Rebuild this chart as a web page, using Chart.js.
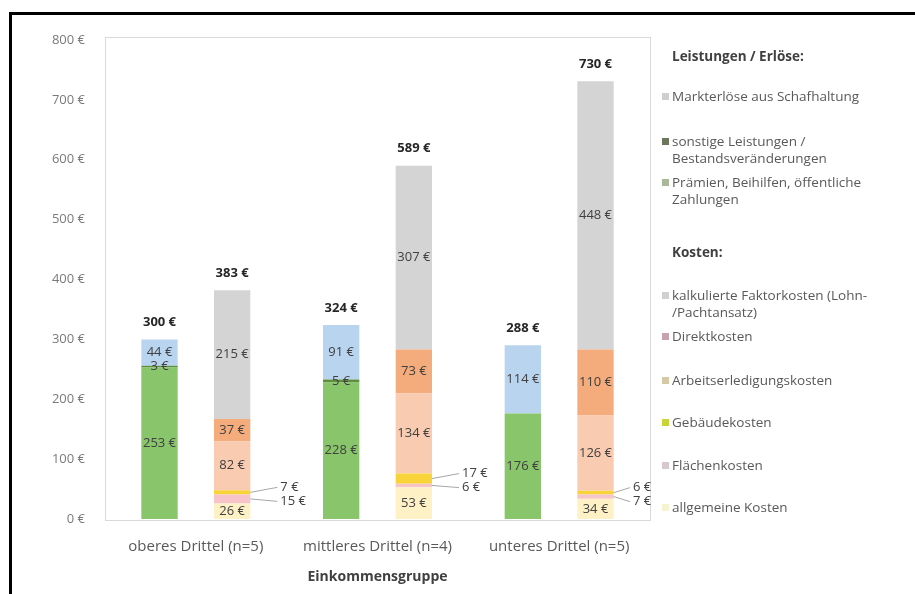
<!DOCTYPE html>
<html lang="de">
<head>
    <meta charset="UTF-8">
    <title>Leistungen und Kosten je Einkommensgruppe</title>
    <script src="https://cdn.jsdelivr.net/npm/chart.js"></script>
    <style>
        html, body { margin: 0; padding: 0; background: #fff; }
        body { width: 915px; height: 594px; position: relative; overflow: hidden; font-family: "Open Sans", sans-serif; }
        #frame { position: absolute; left: 9px; top: 12px; width: 920px; height: 600px; border-top: 3px solid #000; border-left: 3px solid #000; }
        #wrap { position: absolute; left: 0; top: 0; width: 915px; height: 594px; }
        .legend { position: absolute; left: 662px; top: 0; font-size: 13.5px; color: #595959; line-height: 17px; }
        .legend .head { position: absolute; left: 10px; font-weight: bold; color: #404040; white-space: nowrap; }
        .legend .item { position: absolute; left: 0; white-space: nowrap; }
        .legend .sw { position: absolute; left: 0; top: 5px; width: 7px; height: 7px; }
        .legend .txt { margin-left: 10px; }
    </style>
</head>
<body>
    <div id="frame"></div>
    <div id="wrap"><canvas id="chart" width="915" height="594"></canvas></div>
    <div class="legend" id="legend"></div>

    <script>
        // Einkommensgruppen
        const categories = ['oberes Drittel (n=5)', 'mittleres Drittel (n=4)', 'unteres Drittel (n=5)'];

        // Leistungen / Erlöse (€)
        const praemien = [253, 228, 176];
        const sonstigeLeistungen = [3, 5, -2];
        const markterloese = [44, 91, 114];
        const erloeseGesamt = [300, 324, 288];

        // Kosten (€)
        const allgemeineKosten = [26, 53, 34];
        const flaechenkosten = [15, 6, 7];
        const gebaeudekosten = [7, 17, 6];
        const arbeitserledigung = [82, 134, 126];
        const direktkosten = [37, 73, 110];
        const faktorkosten = [215, 307, 448];
        const kostenGesamt = [383, 589, 730];

        const yTicks = [0, 100, 200, 300, 400, 500, 600, 700, 800];

        const datasets = [
            { label: 'Prämien, Beihilfen, öffentliche Zahlungen', data: praemien, stack: 'erloese', backgroundColor: '#88c56b' },
            { label: 'sonstige Leistungen / Bestandsveränderungen', data: sonstigeLeistungen, stack: 'erloese', backgroundColor: '#5f8f3e' },
            { label: 'Markterlöse aus Schafhaltung', data: markterloese, stack: 'erloese', backgroundColor: '#b9d4ef' },
            { label: 'allgemeine Kosten', data: allgemeineKosten, stack: 'kosten', backgroundColor: '#fff1c6' },
            { label: 'Flächenkosten', data: flaechenkosten, stack: 'kosten', backgroundColor: '#f7c5c9', side: 'low' },
            { label: 'Gebäudekosten', data: gebaeudekosten, stack: 'kosten', backgroundColor: '#f8d43a', side: 'high' },
            { label: 'Arbeitserledigungskosten', data: arbeitserledigung, stack: 'kosten', backgroundColor: '#f9cbb0' },
            { label: 'Direktkosten', data: direktkosten, stack: 'kosten', backgroundColor: '#f5ac7c' },
            { label: 'kalkulierte Faktorkosten (Lohn-/Pachtansatz)', data: faktorkosten, stack: 'kosten', backgroundColor: '#d4d4d4' }
        ];

        // legend as in the original figure (its swatches differ from the bars)
        const legendRows = [
            { head: 'Leistungen / Erlöse:', y: 48 },
            { text: 'Markterlöse aus Schafhaltung', color: '#cfcfcf', y: 88 },
            { text: 'sonstige Leistungen /<br>Bestandsveränderungen', color: '#6b765c', y: 133 },
            { text: 'Prämien, Beihilfen, öffentliche<br>Zahlungen', color: '#a8b898', y: 174 },
            { head: 'Kosten:', y: 244 },
            { text: 'kalkulierte Faktorkosten (Lohn-<br>/Pachtansatz)', color: '#d0d0d0', y: 287 },
            { text: 'Direktkosten', color: '#c9a2b2', y: 328 },
            { text: 'Arbeitserledigungskosten', color: '#d6caa6', y: 372 },
            { text: 'Gebäudekosten', color: '#c9d43a', y: 414 },
            { text: 'Flächenkosten', color: '#d9c8cc', y: 457 },
            { text: 'allgemeine Kosten', color: '#f6f3cf', y: 499 }
        ];
        const legendEl = document.getElementById('legend');
        legendRows.forEach(r => {
            const d = document.createElement('div');
            if (r.head) {
                d.className = 'head';
                d.textContent = r.head;
            } else {
                d.className = 'item';
                d.innerHTML = '<span class="sw" style="background:' + r.color + '"></span><div class="txt">' + r.text + '</div>';
            }
            d.style.top = r.y + 'px';
            legendEl.appendChild(d);
        });

        const euro = v => v + ' €';

        // plot frame + segment labels
        const labelPlugin = {
            id: 'segmentLabels',
            beforeDatasetsDraw(chart) {
                const a = chart.chartArea;
                const ctx = chart.ctx;
                ctx.save();
                ctx.strokeStyle = '#d9d9d9';
                ctx.lineWidth = 1;
                ctx.strokeRect(a.left + 0.5, a.top - 2.5, a.right - a.left, a.bottom - a.top + 4);
                ctx.restore();
            },
            afterDatasetsDraw(chart) {
                const ctx = chart.ctx;
                const a = chart.chartArea;
                ctx.save();
                ctx.font = '13px "Open Sans"';
                ctx.textAlign = 'center';
                ctx.textBaseline = 'middle';
                chart.data.datasets.forEach((ds, i) => {
                    const meta = chart.getDatasetMeta(i);
                    meta.data.forEach((el, j) => {
                        const v = ds.data[j];
                        if (v <= 0) return;
                        const cy = (el.y + el.base) / 2;
                        if (ds.side) {
                            // small cost items: label beside the bar with a leader line
                            const right = el.x + el.width / 2;
                            const tx = Math.min(right + 30, a.right - 17);
                            const gIdx = chart.data.datasets.findIndex(d => d.side === 'high');
                            const gEl = chart.getDatasetMeta(gIdx).data[j];
                            const gy = (gEl.y + gEl.base) / 2 - 5;
                            const ty = ds.side === 'high' ? gy : gy + 14;
                            ctx.strokeStyle = '#a6a6a6';
                            ctx.lineWidth = 1;
                            ctx.beginPath();
                            ctx.moveTo(right, cy);
                            ctx.lineTo(tx - 3, ty);
                            ctx.stroke();
                            ctx.fillStyle = '#404040';
                            ctx.textAlign = 'left';
                            ctx.fillText(euro(v), tx, ty);
                            ctx.textAlign = 'center';
                        } else {
                            ctx.fillStyle = '#404040';
                            ctx.fillText(euro(v), el.x, cy);
                        }
                    });
                });
                // totals above the bars
                ctx.font = 'bold 13px "Open Sans"';
                ctx.fillStyle = '#262626';
                const lastRev = chart.getDatasetMeta(2).data;
                const lastCost = chart.getDatasetMeta(chart.data.datasets.length - 1).data;
                categories.forEach((c, j) => {
                    ctx.fillText(euro(erloeseGesamt[j]), lastRev[j].x, lastRev[j].y - 17);
                    ctx.fillText(euro(kostenGesamt[j]), lastCost[j].x, lastCost[j].y - 17);
                });
                ctx.restore();
            }
        };

        new Chart(document.getElementById('chart'), {
            type: 'bar',
            data: { labels: categories, datasets: datasets },
            options: {
                responsive: false,
                animation: false,
                datasets: { bar: { categoryPercentage: 0.8, barPercentage: 0.5 } },
                layout: { padding: { left: 10, right: 265, top: 40, bottom: 0 } },
                plugins: {
                    legend: { display: false },
                    tooltip: { enabled: false }
                },
                scales: {
                    x: {
                        stacked: true,
                        afterFit: s => { s.height = 75; },
                        grid: { display: false, drawTicks: false },
                        border: { display: false },
                        ticks: { color: '#595959', font: { family: 'Open Sans', size: 15 }, padding: 19 },
                        title: { display: true, text: 'Einkommensgruppe', color: '#404040', font: { family: 'Open Sans', size: 14, weight: 'bold' }, padding: { top: 4, bottom: 9 } }
                    },
                    y: {
                        stacked: true,
                        min: 0,
                        max: 800,
                        afterBuildTicks: s => { s.ticks = yTicks.map(v => ({ value: v })); },
                        afterFit: s => { s.width = 95; },
                        grid: { display: false, drawTicks: false },
                        border: { display: false },
                        ticks: { color: '#7a7a7a', font: { family: 'Open Sans', size: 13 }, padding: 20, callback: v => euro(v) }
                    }
                }
            },
            plugins: [labelPlugin]
        });
    </script>
</body>
</html>
